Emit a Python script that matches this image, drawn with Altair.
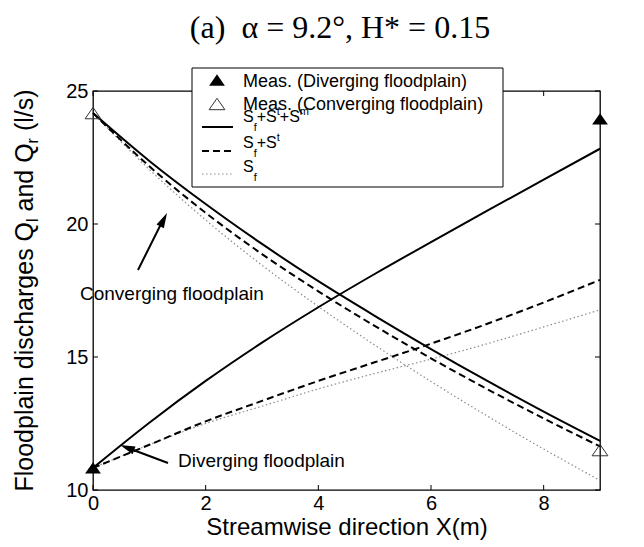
import altair as alt
import pandas as pd

# ---------------- data ----------------
x_pos = [0, 1, 2, 3, 4, 5, 6, 7, 8, 9]
conv_full = [24.17, 22.37, 20.75, 19.25, 17.85, 16.55, 15.3, 14.1, 12.95, 11.85]
conv_ft = [24.17, 22.17, 20.42, 18.87, 17.47, 16.17, 14.95, 13.79, 12.69, 11.64]
conv_f = [24.17, 22.05, 20.15, 18.45, 16.9, 15.45, 14.08, 12.78, 11.54, 10.36]
div_full = [10.83, 12.53, 14.10, 15.54, 16.87, 18.12, 19.32, 20.50, 21.67, 22.83]
div_ft = [10.83, 11.7, 12.58, 13.35, 14.1, 14.8, 15.5, 16.25, 17.05, 17.9]
div_f = [10.83, 11.7, 12.5, 13.15, 13.8, 14.38, 14.92, 15.5, 16.13, 16.77]

meas_x = [0, 9]
meas_div = [10.83, 23.95]
meas_conv = [24.17, 11.5]

x_ticks = [0, 2, 4, 6, 8]
y_ticks = [10, 15, 20, 25]

# ---------------- layout ----------------
L, T, W, H = 93, 91, 507, 399
PAGE_W, PAGE_H = 644, 547
FONT = "Liberation Sans"


def ax(v):
    return v - L


def ay(v):
    return v - T


rows = []
for case, model, vals in [
    ("conv", "full", conv_full), ("conv", "ft", conv_ft), ("conv", "f", conv_f),
    ("div", "full", div_full), ("div", "ft", div_ft), ("div", "f", div_f),
]:
    for xv, yv in zip(x_pos, vals):
        rows.append({"x": xv, "y": yv, "case": case, "model": model})
lines = pd.DataFrame(rows)

meas = pd.DataFrame({"x": meas_x + meas_x,
                     "y": meas_div + meas_conv,
                     "case": ["div", "div", "conv", "conv"]})

xs = alt.Scale(domain=[0, 9], nice=False, zero=False)
ys = alt.Scale(domain=[10, 25], nice=False, zero=False)

X = alt.X("x:Q", scale=xs, axis=alt.Axis(
    values=x_ticks, title="Streamwise direction X(m)", grid=False, ticks=False,
    domain=False, labelFont=FONT, labelFontSize=20, labelColor="black",
    labelPadding=3, labelFlush=False, titleFont=FONT, titleFontSize=24,
    titleFontWeight="normal", titleColor="black", titlePadding=2))
Y = alt.Y("y:Q", scale=ys, axis=alt.Axis(
    values=y_ticks, title=None, grid=False, ticks=False, domain=False,
    labelFont=FONT, labelFontSize=20, labelColor="black", labelPadding=5,
    labelFlush=False))


def line_layer(model, color, width, dash=None):
    mk = dict(color=color, strokeWidth=width, interpolate="monotone")
    if dash:
        mk["strokeDash"] = dash
    return (alt.Chart(lines).transform_filter(alt.datum.model == model)
            .mark_line(**mk).encode(x=X, y=Y, detail="case:N"))


DASH = [7, 4]
DOT = [1.5, 2.5]
DOT_COLOR = "#8a8a8a"

layers = [
    line_layer("f", DOT_COLOR, 1.2, DOT),
    line_layer("ft", "black", 2, DASH),
    line_layer("full", "black", 2),
]

# inward ticks on all four sides
dxt = 5 / (W / 9)
dyt = 5 / (H / 15)
tick_rows = []
for t in x_ticks:
    tick_rows.append({"x": t, "x2": t, "y": 10, "y2": 10 + dyt})
    tick_rows.append({"x": t, "x2": t, "y": 25, "y2": 25 - dyt})
for t in y_ticks:
    tick_rows.append({"x": 0, "x2": dxt, "y": t, "y2": t})
    tick_rows.append({"x": 9, "x2": 9 - dxt, "y": t, "y2": t})
ticks = pd.DataFrame(tick_rows)
layers.append(alt.Chart(ticks).mark_rule(color="black", strokeWidth=1).encode(
    x=X, x2="x2:Q", y=Y, y2="y2:Q"))

TRI = "M0,-0.72L1,0.72L-1,0.72Z"
layers.append(alt.Chart(meas).transform_filter(alt.datum.case == "div")
              .mark_point(shape=TRI, size=250, filled=True, color="black", opacity=1)
              .encode(x=X, y=Y))
layers.append(alt.Chart(meas).transform_filter(alt.datum.case == "conv")
              .mark_point(shape=TRI, size=250, filled=False, color="#333333",
                          strokeWidth=1, opacity=1)
              .encode(x=X, y=Y))

one = pd.DataFrame({"k": [0]})


def text(s, x, y, size, font=FONT, align="left", angle=0):
    return alt.Chart(one).mark_text(
        text=s, align=align, baseline="alphabetic", font=font, fontSize=size,
        color="black", angle=angle).encode(x=alt.value(ax(x)), y=alt.value(ay(y)))


def rule(x1, y1, x2, y2, color="black", width=1.0, dash=None):
    mk = dict(color=color, strokeWidth=width)
    if dash:
        mk["strokeDash"] = dash
    return alt.Chart(one).mark_rule(**mk).encode(
        x=alt.value(ax(x1)), y=alt.value(ay(y1)),
        x2=alt.value(ax(x2)), y2=alt.value(ay(y2)))


def symbol(x, y, shape, size, filled, color="black", angle=0, sw=1):
    return alt.Chart(one).mark_point(
        shape=shape, size=size, filled=filled, color=color, opacity=1,
        strokeWidth=sw, angle=angle).encode(x=alt.value(ax(x)), y=alt.value(ay(y)))


# annotations with arrows
HEAD = "M0,0L0.55,2L-0.55,2Z"
layers += [
    rule(138, 270, 162, 222, width=2),
    symbol(167, 213, HEAD, 225, True, angle=27),
    text("Converging floodplain", 80, 300, 19),
    rule(168, 463, 128, 448, width=2),
    symbol(120, 445, HEAD, 225, True, angle=290.6),
    text("Diverging floodplain", 178, 467, 19),
]

# legend box
layers.append(alt.Chart(one).mark_rect(fill="white", stroke="black", strokeWidth=1).encode(
    x=alt.value(ax(192)), x2=alt.value(ax(503)), y=alt.value(ay(68)), y2=alt.value(ay(187))))

layers += [
    symbol(217, 80, TRI, 250, True),
    text("Meas. (Diverging floodplain)", 243, 87, 18),
    symbol(217, 104, TRI, 250, False, color="#333333"),
    text("Meas. (Converging floodplain)", 243, 110, 18),
    rule(202, 127, 233, 127, width=2),
    rule(202, 151, 233, 151, width=2, dash=DASH),
    rule(202, 174, 233, 174, color=DOT_COLOR, width=1.2, dash=DOT),
]

ADV = {"S": 0.667, "+": 0.584, "f": 0.278, "t": 0.278, "m": 0.833}


def s_label(base, parts):
    """parts: list of (text, kind) with kind 'n', 'sub', 'sup'."""
    out = []
    x = 243.0
    for s, kind in parts:
        if kind == "n":
            out.append(text(s, x, base, 16))
            x += sum(ADV[c] for c in s) * 16
        elif kind == "sub":
            out.append(text(s, x, base + 9, 11))
            x += sum(ADV[c] for c in s) * 11
        else:
            out.append(text(s, x, base - 7, 11))
            x += sum(ADV[c] for c in s) * 11
    return out


layers += s_label(122, [("S", "n"), ("f", "sub"), ("+S", "n"), ("t", "sup"), ("+S", "n"), ("m", "sup")])
layers += s_label(148, [("S", "n"), ("f", "sub"), ("+S", "n"), ("t", "sup")])
layers += s_label(172, [("S", "n"), ("f", "sub")])

# title
layers.append(text("(a)\u00a0 \u03b1 = 9.2\u00b0, H* = 0.15", 340, 38, 32,
                   font="Liberation Serif", align="center"))

# y-axis title (rotated, with subscripts)
YS = 25
ysub = 16
SP = 0.278 * YS
p1 = "Floodplain discharges Q"
p3 = "and Q"
p5 = "(l/s)"
w1 = (0.611 + 0.222 + 0.556 * 3 + 0.556 + 0.222 + 0.556 + 0.222 + 0.556 + 0.278 + 4.835 + 0.278 + 0.778) * YS
w2 = 0.222 * ysub + SP
w3 = (1.668 + 0.278 + 0.778) * YS
w4 = 0.333 * ysub + SP
w5 = 1.666 * YS
total = w1 + w2 + w3 + w4 + w5
y0 = (T + T + H) / 2 + total / 2
bx = 33
layers += [
    text(p1, bx, y0, YS, angle=270),
    text("l", bx + 5, y0 - w1, ysub, angle=270),
    text(p3, bx, y0 - w1 - w2, YS, angle=270),
    text("r", bx + 5, y0 - w1 - w2 - w3, ysub, angle=270),
    text(p5, bx, y0 - w1 - w2 - w3 - w4, YS, angle=270),
]

chart = alt.layer(*layers).properties(
    width=W, height=H,
    autosize=alt.AutoSizeParams(type="none"),
    padding={"left": L, "top": T, "right": PAGE_W - L - W, "bottom": PAGE_H - T - H},
    background="white",
).configure_view(stroke="black", strokeWidth=1.3)

chart.save("out.html", embed_options={"renderer": "svg", "actions": False})
